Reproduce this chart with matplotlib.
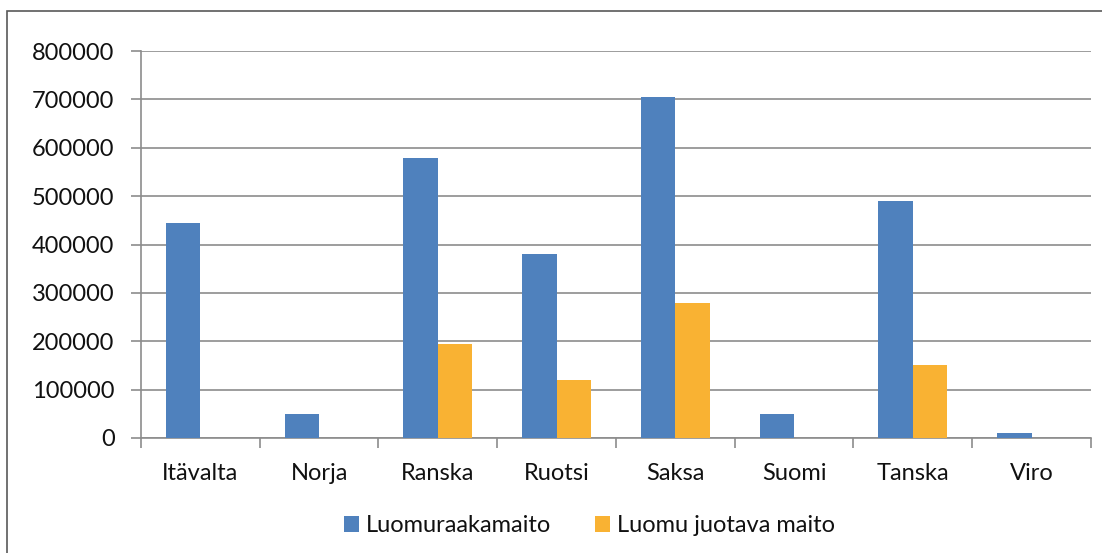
import numpy as np
import matplotlib.pyplot as plt
from matplotlib.patches import Rectangle

countries = ["Itävalta", "Norja", "Ranska", "Ruotsi", "Saksa", "Suomi", "Tanska", "Viro"]
raakamaito = [444000, 50000, 579000, 380000, 705000, 50000, 490000, 10000]
juotava = [0, 0, 194000, 120000, 280000, 0, 150000, 0]
yticks = [0, 100000, 200000, 300000, 400000, 500000, 600000, 700000, 800000]

plt.rcParams['font.family'] = ['Lato', 'DejaVu Sans']
plt.rcParams['text.color'] = '#111111'

fig = plt.figure(figsize=(11.02, 5.53), dpi=100)
ax = fig.add_axes([141 / 1102, 1 - 438 / 553, 950 / 1102, 387 / 553])

# chart frame (cut off at right and bottom like the original)
fig.patches.append(Rectangle((7 / 1102, -0.05), 1.2, 1 - 11 / 553 + 0.05,
                             transform=fig.transFigure, fill=False,
                             edgecolor='#595959', linewidth=1.2))

x = np.arange(len(countries))
w = 0.29
ax.bar(x - w / 2, raakamaito, w, color='#4f81bd', label='Luomuraakamaito', zorder=3)
ax.bar(x + w / 2, juotava, w, color='#f9b233', label='Luomu juotava maito', zorder=3)

ax.set_xlim(-0.5, len(countries) - 0.5)
ax.set_ylim(0, 800000)
ax.set_yticks(yticks)
ax.set_yticklabels([str(v) for v in yticks], fontsize=17, color='#111111')
ax.set_xticks(x)
ax.set_xticklabels(countries, fontsize=17, color='#111111')
ax.set_xticks(np.arange(len(countries) + 1) - 0.5, minor=True)

grid_c = '#8c8c8c'
ax.yaxis.grid(True, color=grid_c, linewidth=1.2, zorder=0)
for s in ['top', 'right']:
    ax.spines[s].set_visible(False)
for s in ['left', 'bottom']:
    ax.spines[s].set_color(grid_c)
    ax.spines[s].set_linewidth(1.2)
ax.tick_params(axis='x', which='major', length=0, pad=18)
ax.tick_params(axis='x', which='minor', length=7, color=grid_c, width=1.2)
ax.tick_params(axis='y', length=7, color=grid_c, width=1.2, pad=12)

fig.legend(loc='center', bbox_to_anchor=(0.535, 1 - 526 / 553), ncol=2, frameon=False,
           fontsize=17, handlelength=0.65, handleheight=0.65, handletextpad=0.3,
           columnspacing=1.85)

fig.savefig('out.png', dpi=100)
